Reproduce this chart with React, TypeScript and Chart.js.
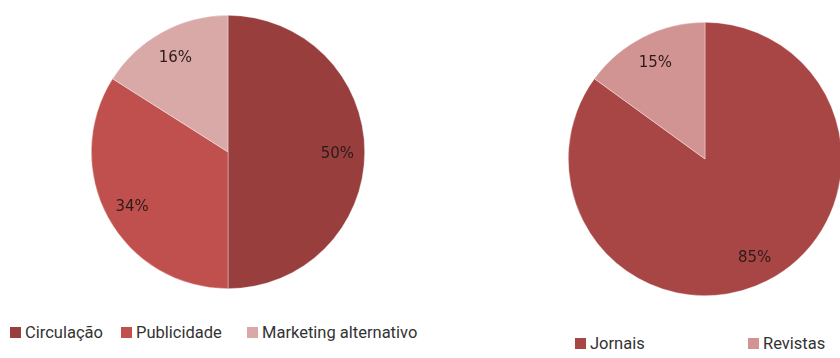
import React, { useEffect, useRef } from "react";
import { Chart, registerables } from "chart.js";

Chart.register(...registerables);

const revenueLabels = ["Circulação", "Publicidade", "Marketing alternativo"];
const revenueValues = [50, 34, 16];
const revenueColors = ["#983F3E", "#C0504D", "#D9A9A8"];

const mediaLabels = ["Jornais", "Revistas"];
const mediaValues = [85, 15];
const mediaColors = ["#A84645", "#D29493"];

const pctPlugin = {
  id: "pctLabels",
  afterDatasetsDraw(chart: any) {
    const ctx = chart.ctx;
    const meta = chart.getDatasetMeta(0);
    const data = chart.data.datasets[0].data as number[];
    const total = data.reduce((a, b) => a + b, 0);
    ctx.save();
    ctx.font = "15px 'DejaVu Sans'";
    ctx.fillStyle = "#2e1a1a";
    ctx.textAlign = "center";
    ctx.textBaseline = "middle";
    meta.data.forEach((arc: any, i: number) => {
      const { x, y, startAngle, endAngle, outerRadius } = arc.getProps(
        ["x", "y", "startAngle", "endAngle", "outerRadius"],
        true
      );
      const mid = (startAngle + endAngle) / 2;
      const r = outerRadius * 0.8;
      const pct = Math.round((data[i] / total) * 100);
      ctx.fillText(pct + "%", x + Math.cos(mid) * r, y + Math.sin(mid) * r + 2);
    });
    ctx.restore();
  },
};

function PieCanvas(props: {
  labels: string[];
  values: number[];
  colors: string[];
  style: React.CSSProperties;
}) {
  const ref = useRef<HTMLCanvasElement | null>(null);
  useEffect(() => {
    if (!ref.current) return;
    const chart = new Chart(ref.current, {
      type: "pie",
      data: {
        labels: props.labels,
        datasets: [
          {
            data: props.values,
            backgroundColor: props.colors,
            borderColor: "rgba(255,255,255,0.6)",
            borderWidth: 0.6,
          },
        ],
      },
      options: {
        responsive: false,
        animation: false,
        plugins: { legend: { display: false }, tooltip: { enabled: false } },
        layout: { padding: 0 },
      },
      plugins: [pctPlugin],
    });
    return () => chart.destroy();
  }, []);
  return (
    <canvas
      ref={ref}
      width={props.style.width as number}
      height={props.style.height as number}
      style={{ position: "absolute", ...props.style }}
    />
  );
}

const legendText: React.CSSProperties = {
  position: "absolute",
  fontFamily: "Roboto, 'DejaVu Sans', sans-serif",
  fontSize: 16.5,
  color: "#333",
  whiteSpace: "nowrap",
  lineHeight: "20px",
};

function LegendItem(props: { label: string; color: string; x: number; y: number }) {
  return (
    <div style={{ ...legendText, left: props.x, top: props.y }}>
      <span
        style={{
          display: "inline-block",
          width: 11,
          height: 11,
          background: props.color,
          marginRight: 4,
          verticalAlign: "0px",
        }}
      />
      {props.label}
    </div>
  );
}

export default function App() {
  const leftX = [10, 121, 247];
  const rightX = [575, 748];
  return (
    <div
      style={{
        position: "fixed",
        left: 0,
        top: 0,
        width: 840,
        height: 358,
        overflow: "hidden",
        background: "#fff",
      }}
    >
      <PieCanvas
        labels={revenueLabels}
        values={revenueValues}
        colors={revenueColors}
        style={{ left: 91, top: 15, width: 274, height: 274 }}
      />
      <PieCanvas
        labels={mediaLabels}
        values={mediaValues}
        colors={mediaColors}
        style={{ left: 568, top: 22, width: 274, height: 274 }}
      />
      {revenueLabels.map((l, i) => (
        <LegendItem key={l} label={l} color={revenueColors[i]} x={leftX[i]} y={323} />
      ))}
      {mediaLabels.map((l, i) => (
        <LegendItem key={l} label={l} color={mediaColors[i]} x={rightX[i]} y={334} />
      ))}
    </div>
  );
}
